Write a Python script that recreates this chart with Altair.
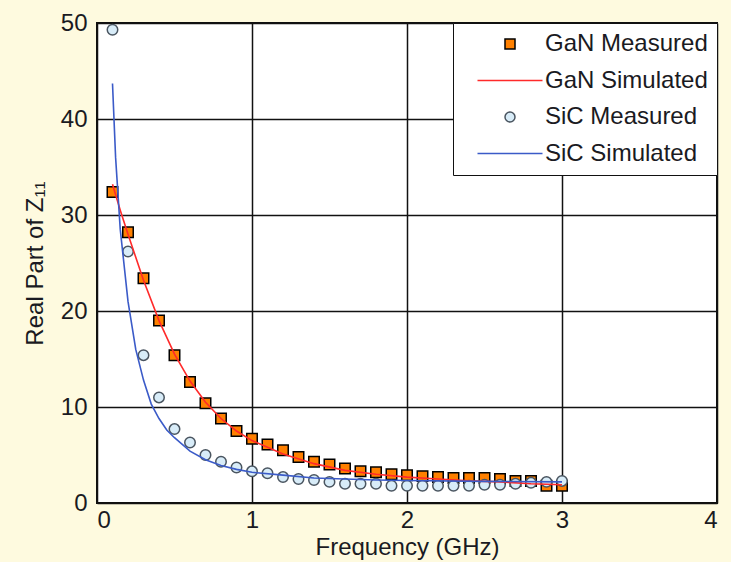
import altair as alt
import pandas as pd

# ---- data ----
freq_meas = [0.1, 0.2, 0.3, 0.4, 0.5, 0.6, 0.7, 0.8, 0.9, 1.0,
             1.1, 1.2, 1.3, 1.4, 1.5, 1.6, 1.7, 1.8, 1.9, 2.0,
             2.1, 2.2, 2.3, 2.4, 2.5, 2.6, 2.7, 2.8, 2.9, 3.0]
gan_measured = [32.4, 28.2, 23.4, 19.0, 15.4, 12.6, 10.4, 8.8, 7.5, 6.7,
                6.1, 5.5, 4.8, 4.3, 4.0, 3.6, 3.3, 3.2, 3.0, 2.9,
                2.8, 2.7, 2.6, 2.6, 2.6, 2.5, 2.3, 2.3, 1.8, 1.8]
sic_measured = [49.3, 26.2, 15.4, 11.0, 7.7, 6.3, 5.0, 4.3, 3.7, 3.3,
                3.1, 2.7, 2.5, 2.4, 2.2, 2.0, 2.0, 2.0, 1.8, 1.8,
                1.8, 1.8, 1.8, 1.8, 1.9, 1.9, 2.0, 2.1, 2.2, 2.3]

freq_gan_sim = [0.1, 0.15, 0.2, 0.3, 0.4, 0.5, 0.6, 0.7, 0.8, 0.9, 1.0,
                1.2, 1.4, 1.6, 1.8, 2.0, 2.2, 2.4, 2.6, 2.8, 3.0]
gan_simulated = [33.2, 30.5, 28.0, 23.2, 19.0, 15.5, 12.7, 10.5, 8.8, 7.5, 6.5,
                 5.1, 4.1, 3.4, 3.0, 2.7, 2.5, 2.3, 2.2, 2.0, 1.9]

freq_sic_sim = [0.1, 0.12, 0.15, 0.2, 0.25, 0.3, 0.35, 0.4, 0.45, 0.5, 0.6,
                0.7, 0.8, 0.9, 1.0, 1.2, 1.4, 1.6, 1.8, 2.0, 2.5, 3.0]
sic_simulated = [43.7, 36.0, 28.5, 21.0, 16.0, 12.8, 10.3, 8.8, 7.6, 6.8, 5.4,
                 4.5, 3.9, 3.5, 3.2, 2.9, 2.6, 2.5, 2.4, 2.35, 2.25, 2.2]

series = ["GaN Measured", "GaN Simulated", "SiC Measured", "SiC Simulated"]
fills = ["#ff8000", "transparent", "#d8ecf8", "transparent"]
strokes = ["#000000", "#ff2a2a", "#4a5560", "#3b5bc8"]
line_symbol = "M-6.5,0L6.5,0"
shapes = ["square", line_symbol, "circle", line_symbol]

meas_df = pd.DataFrame({
    "freq": freq_meas + freq_meas,
    "value": gan_measured + sic_measured,
    "series": ["GaN Measured"] * len(freq_meas) + ["SiC Measured"] * len(freq_meas),
})
sim_df = pd.DataFrame({
    "freq": freq_gan_sim + freq_sic_sim,
    "value": gan_simulated + sic_simulated,
    "series": ["GaN Simulated"] * len(freq_gan_sim) + ["SiC Simulated"] * len(freq_sic_sim),
})

FONT = "Liberation Sans"
TXT = "#1a1a22"

legend = alt.Legend(
    title=None, orient="top-right", offset=0,
    fillColor="white", strokeColor="#111111", padding=9,
    labelFont=FONT, labelFontSize=24, labelColor=TXT, labelLimit=400,
    rowPadding=12.5, symbolStrokeWidth=1.5, symbolSize=100,
    symbolOffset=36, labelOffset=23,
)

x_enc = alt.X("freq:Q", scale=alt.Scale(domain=[0, 4], nice=False),
              axis=alt.Axis(values=[0, 1, 2, 3, 4], title="Frequency (GHz)", format="d"))
y_enc = alt.Y("value:Q", scale=alt.Scale(domain=[0, 50], nice=False),
              axis=alt.Axis(values=[0, 10, 20, 30, 40, 50], title="Real Part of Z₁₁", format="d"))

fill_enc = alt.Fill("series:N", scale=alt.Scale(domain=series, range=fills), legend=legend)
stroke_enc = alt.Stroke("series:N", scale=alt.Scale(domain=series, range=strokes), legend=legend)
shape_enc = alt.Shape("series:N", scale=alt.Scale(domain=series, range=shapes), legend=legend)

points = alt.Chart(meas_df).mark_point(
    size=110, strokeWidth=1.5, filled=False, opacity=1, fillOpacity=1
).encode(x=x_enc, y=y_enc, fill=fill_enc, stroke=stroke_enc, shape=shape_enc)

lines = alt.Chart(sim_df).mark_line(strokeWidth=1.6).encode(
    x=x_enc, y=y_enc, stroke=stroke_enc, detail="series:N"
)

chart = alt.layer(points, lines).properties(
    width=620, height=480,
    autosize=alt.AutoSizeParams(type="none"),
    padding={"left": 97, "top": 23, "right": 14, "bottom": 59},
    background="#fefadf",
).configure_view(
    fill="white", stroke="#111111", strokeWidth=2
).configure_axis(
    grid=True, gridColor="#111111", gridWidth=1.5, gridOpacity=1,
    domain=False, ticks=False,
    labelFont=FONT, labelFontSize=24, labelColor=TXT, labelPadding=10,
    titleFont=FONT, titleFontSize=24, titleColor=TXT, titleFontWeight="normal",
).configure_axisX(
    labelPadding=5, titlePadding=3,
).configure_axisY(
    titlePadding=13,
)

chart.save("out.html", embed_options={"renderer": "svg", "actions": False})
